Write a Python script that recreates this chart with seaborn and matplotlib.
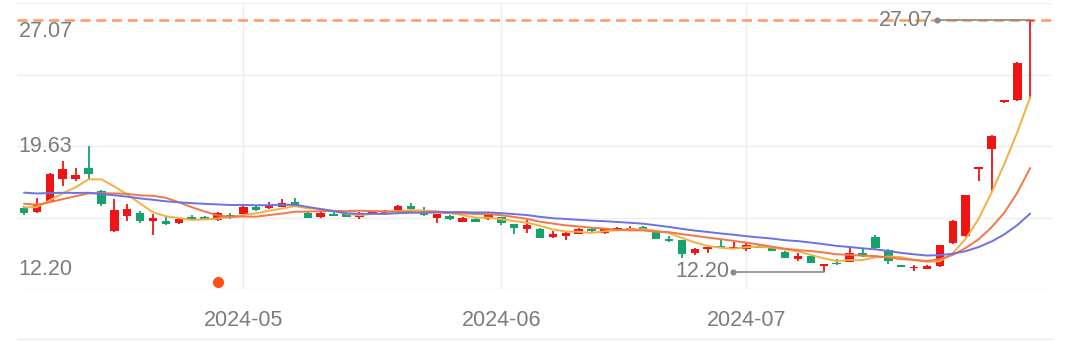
import math
import numpy as np
import pandas as pd
import matplotlib
matplotlib.use("Agg")
import matplotlib.pyplot as plt
from matplotlib.lines import Line2D
import matplotlib.transforms as mtransforms
import seaborn as sns

# ---------------- data ----------------
holidays = ["2024-05-01", "2024-05-02", "2024-05-03", "2024-06-10"]
dates = pd.bdate_range("2024-04-08", "2024-07-31")
dates = dates[~dates.isin(pd.to_datetime(holidays))]

opens = [15.99, 15.74, 16.39, 17.67, 17.71, 18.32, 16.98, 14.62, 15.51, 15.66,
         15.21, 15.21, 15.07, 15.42, 15.40, 15.27, 15.56, 15.60, 16.04, 15.96,
         16.05, 16.35, 15.70, 15.45, 15.60, 15.64, 15.45, 15.60, 15.68, 15.84,
         16.10, 15.76, 15.40, 15.51, 15.17, 15.31, 15.31, 15.42, 15.03, 14.74,
         14.74, 14.27, 14.31, 14.46, 14.72, 14.50, 14.75, 14.72, 14.83, 14.56,
         14.15, 14.07, 13.34, 13.54, 13.76, 13.54, 13.58, 13.70, 13.69, 13.38,
         12.95, 13.15, 12.55, 12.75, 12.79, 13.30, 14.24, 13.50, 12.61, 12.41,
         12.40, 12.55, 13.89, 14.33, 18.26, 19.44, 22.23, 22.35, 27.00]
highs = [16.10, 16.58, 18.04, 18.75, 18.36, 19.63, 17.04, 16.49, 16.20, 15.80,
         15.60, 15.45, 15.39, 15.56, 15.53, 15.74, 15.68, 16.10, 16.10, 16.35,
         16.49, 16.58, 15.74, 15.74, 15.76, 15.68, 15.74, 15.80, 15.86, 16.15,
         16.29, 16.03, 15.62, 15.54, 15.45, 15.36, 15.59, 15.45, 15.05, 15.25,
         14.77, 14.62, 14.56, 14.77, 14.86, 14.77, 14.83, 14.89, 14.94, 14.62,
         14.35, 14.09, 13.63, 13.70, 14.13, 13.97, 13.93, 13.79, 13.73, 13.44,
         13.30, 13.17, 12.67, 12.94, 13.63, 13.63, 14.37, 13.54, 12.64, 12.64,
         12.61, 13.80, 15.24, 16.74, 18.42, 20.26, 22.35, 24.59, 27.07]
lows = [15.56, 15.68, 16.33, 17.27, 17.57, 17.67, 16.10, 14.56, 15.21, 15.09,
        14.37, 15.00, 15.03, 15.27, 15.24, 15.21, 15.33, 15.56, 15.80, 15.92,
        16.04, 16.04, 15.36, 15.39, 15.48, 15.42, 15.35, 15.56, 15.62, 15.80,
        15.80, 15.51, 15.11, 15.27, 15.12, 15.15, 15.27, 14.95, 14.47, 14.52,
        14.21, 14.18, 14.11, 14.43, 14.56, 14.47, 14.71, 14.68, 14.68, 14.12,
        13.97, 13.04, 13.23, 13.34, 13.62, 13.53, 13.44, 13.62, 13.41, 13.00,
        12.85, 12.73, 12.20, 12.64, 12.76, 13.09, 13.56, 12.67, 12.47, 12.26,
        12.38, 12.50, 13.85, 14.27, 17.57, 16.98, 22.20, 22.32, 22.40]
closes = [15.66, 16.20, 17.97, 18.26, 17.91, 18.00, 16.20, 15.86, 15.94, 15.21,
          15.40, 15.02, 15.35, 15.37, 15.36, 15.66, 15.40, 16.04, 15.84, 16.15,
          16.29, 16.10, 15.40, 15.70, 15.51, 15.45, 15.70, 15.77, 15.80, 16.10,
          15.90, 15.55, 15.60, 15.31, 15.40, 15.17, 15.55, 15.11, 14.77, 14.97,
          14.23, 14.46, 14.52, 14.72, 14.59, 14.72, 14.78, 14.81, 14.74, 14.17,
          14.00, 13.29, 13.54, 13.69, 13.63, 13.69, 13.78, 13.66, 13.44, 13.04,
          13.15, 12.75, 12.65, 12.65, 13.30, 13.15, 13.59, 12.85, 12.50, 12.50,
          12.55, 13.78, 15.21, 16.73, 18.41, 20.23, 22.33, 24.55, 27.07]
# closes before the visible window (only feed the moving averages)
prior_closes = [17.2, 17.5, 17.9, 18.1, 17.8, 17.6, 17.4, 17.6, 17.3, 17.0,
                16.8, 16.5, 16.4, 16.2, 16.3, 16.1, 16.0, 16.2, 16.1]
ma_windows = [5, 10, 20]
event_days = ["2024-04-29"]

# ---------------- styling ----------------
sns.set_theme(style="white")
plt.rcParams["font.family"] = ["Liberation Sans", "DejaVu Sans"]

RED = "#f01414"
GREEN = "#14a36e"
MA_COLORS = {5: "#f5b042", 10: "#f2774a", 20: "#6b72e6"}
TXT = "#7c7c7c"

W, H = 1080, 361
fig = plt.figure(figsize=(W / 100, H / 100), dpi=100)
fig.patch.set_facecolor("white")
ax_left, ax_right, ax_top, ax_bot = 17, 1052, 3, 289
ax = fig.add_axes([ax_left / W, (H - ax_bot) / H, (ax_right - ax_left) / W, (ax_bot - ax_top) / H])

df = pd.DataFrame({"date": dates, "open": opens, "high": highs, "low": lows, "close": closes})
df["i"] = np.arange(len(df))
full = pd.Series(prior_closes + closes)
for w in ma_windows:
    df[f"ma{w}"] = full.rolling(w).mean().iloc[len(prior_closes):].to_numpy()

o = df["open"].to_numpy(); c = df["close"].to_numpy()
colors = np.where(c >= o, RED, GREEN)

hi_max = df["high"].max(); lo_min = df["low"].min()
i_max = int(df["high"].idxmax()); i_min = int(df["low"].idxmin())

# axis limits (pixel-based framing)
step = 12.9
first_px = 24
ax.set_xlim((ax_left - first_px) / step, (ax_right - first_px) / step)
mid = (hi_max + lo_min) / 2
ppu = 0.05902  # price per pixel
half = (ax_bot - ax_top) / 2 * ppu
ylo, yhi = mid - half, mid + half
ax.set_ylim(ylo, yhi)

# grid
ax.set_yticks(np.linspace(ylo, yhi, 5))
ax.set_yticklabels([])
month_start = df.groupby(df["date"].dt.to_period("M"))["i"].min()
month_start = month_start[month_start > 0]
ax.set_xticks(month_start.to_numpy())
ax.set_xticklabels([p.strftime("%Y-%m") for p in month_start.index])
ax.grid(True, color="#eeeeee", lw=1.0, zorder=0)
ax.tick_params(length=0, pad=15, labelsize=15.5, labelcolor=TXT)
for s in ax.spines.values():
    s.set_visible(False)

# max dashed line
ax.axhline(hi_max, color="#ff9a5c", lw=1.8, ls=(0, (4, 2.3)), zorder=1)

# candles
body = np.abs(c - o)
hgt = np.maximum(body, 0.08)
bottom = np.minimum(o, c) - (hgt - body) / 2
ax.vlines(df["i"], df["low"], df["high"], colors=colors, lw=1.3, zorder=2)
ax.bar(df["i"], hgt, bottom=bottom, width=0.66, color=colors, lw=0, zorder=3)

# moving averages
for w in ma_windows:
    sns.lineplot(data=df, x="i", y=f"ma{w}", color=MA_COLORS[w], lw=1.4, ax=ax, zorder=4)
ax.set_xlabel(""); ax.set_ylabel("")

# left price labels
ytr = ax.get_yaxis_transform()
lbl_kw = dict(xycoords=ytr, textcoords="offset points", fontsize=15.5, color=TXT, ha="left", va="center")
ax.annotate(f"{hi_max:.2f}", xy=(0, hi_max), xytext=(1, -8.5), **lbl_kw)
ax.annotate(f"{math.floor(mid * 100 + 1e-9) / 100:.2f}", xy=(0, mid), xytext=(1, 0), **lbl_kw)
ax.annotate(f"{lo_min:.2f}", xy=(0, lo_min), xytext=(1, 2), **lbl_kw)

# max / min pointer annotations
for idx, val, back in [(i_max, hi_max, 7.25), (i_min, lo_min, 7.05)]:
    xd = idx - back
    ax.plot([xd, idx], [val, val], color="#8a8a8a", lw=1.2, zorder=5)
    ax.plot([xd], [val], "o", ms=3.4, color="#8a8a8a", zorder=5)
    ax.text(xd - 0.3, val, f"{val:.2f}", ha="right", va="center", fontsize=15.5, color=TXT, zorder=5)

# event marker
btr = mtransforms.blended_transform_factory(ax.transData, ax.transAxes)
ev_idx = df.index[df["date"].isin(pd.to_datetime(event_days))]
ax.plot(ev_idx, [0.0255] * len(ev_idx), "o", ms=7, color="#ff4f16", transform=btr, zorder=6, clip_on=False)

# bottom separator
fig.add_artist(Line2D([ax_left / W, ax_right / W], [(H - 339) / H] * 2, color="#ebebeb", lw=1))

fig.savefig("out.png", dpi=100, facecolor="white")
